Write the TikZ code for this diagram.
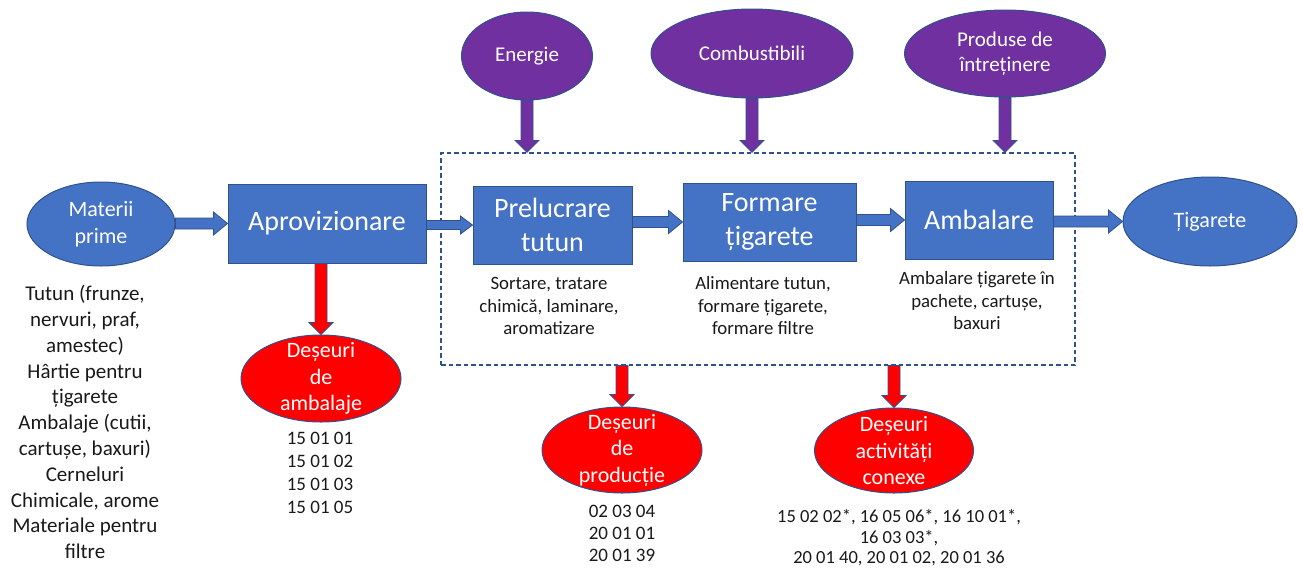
\documentclass[tikz,border=0pt]{standalone}
\usepackage{fontspec}
\setmainfont{Carlito}
\usetikzlibrary{shapes.geometric,calc}
\definecolor{blueF}{HTML}{4472C4}
\definecolor{blueD}{HTML}{2F528F}
\definecolor{purpF}{HTML}{7030A0}
\definecolor{redF}{HTML}{FF0000}
\tikzset{
  hblock/.style n args={3}{to path={let \p1=(\tikztostart), \p2=(\tikztotarget) in
    (\x1,\y2-#1) -- (\x2-#3,\y2-#1) -- (\x2-#3,\y2-#2) -- (\x2,\y2) -- (\x2-#3,\y2+#2) -- (\x2-#3,\y2+#1) -- (\x1,\y2+#1) -- cycle}},
  vblock/.style n args={3}{to path={let \p1=(\tikztostart), \p2=(\tikztotarget) in
    (\x2-#1,\y1) -- (\x2-#1,\y2+#3) -- (\x2-#2,\y2+#3) -- (\x2,\y2) -- (\x2+#2,\y2+#3) -- (\x2+#1,\y2+#3) -- (\x2+#1,\y1) -- cycle}},
  barrow/.style={hblock={5.5pt}{11.5pt}{14pt}, fill=blueF, draw=blueD, line width=0.8pt},
  barrowthin/.style={hblock={4.5pt}{9pt}{12pt}, fill=blueF, draw=blueD, line width=0.8pt},
  parrow/.style={vblock={6pt}{12pt}{12pt}, fill=purpF, draw=blueD, line width=0.8pt},
  rarrow/.style={vblock={6pt}{12pt}{12pt}, fill=redF, draw=blueD, line width=0.8pt},
  proc/.style={rectangle, fill=blueF, draw=blueD, line width=1pt, text=white, align=center, inner sep=0pt, font=\fontsize{28}{34}\selectfont},
  ell/.style={ellipse, draw=blueD, line width=1pt, inner sep=0pt},
  etxt/.style={text=white, align=center, inner sep=0pt, font=\fontsize{22}{26.5}\selectfont},
  inE/.style={ell, fill=blueF},
  supE/.style={ell, fill=purpF},
  wasteE/.style={ell, fill=redF},
  lbl/.style={align=center, inner sep=0pt, text=black!90, font=\fontsize{18.8}{22.5}\selectfont},
  grpbox/.style={rectangle, draw=blueD, line width=1.2pt, dash pattern=on 4.5pt off 3pt, inner sep=0pt}
}
\begin{document}
\begin{tikzpicture}[x=1pt,y=-1pt]
\useasboundingbox (0,0) rectangle (1303,568);
% dashed group
\node[grpbox, minimum width=634, minimum height=212] (grp) at (758,259) {};
% main flow
\node[inE, minimum width=148, minimum height=84, label={[etxt]center:Materii\\prime}] (mat) at (101,224) {};
\node[proc, minimum width=198, minimum height=79] (aprov) at (327,223.5) {Aprovizionare};
\node[proc, minimum width=159, minimum height=78] (prel) at (552.5,225) {Prelucrare\\tutun};
\node[proc, minimum width=173, minimum height=78] (form) at (769.5,222) {Formare\\țigarete};
\node[proc, minimum width=148, minimum height=78] (amb) at (979,220) {Ambalare};
\node[inE, minimum width=174, minimum height=89, label={[etxt]center:Țigarete}] (tig) at (1210,221.5) {};
% inputs
\node[supE, minimum width=131, minimum height=88, label={[etxt, font=\fontsize{21}{25}\selectfont]center:Energie}] (ener) at (527,56) {};
\node[supE, minimum width=202, minimum height=89, label={[etxt, font=\fontsize{21}{25}\selectfont]center:Combustibili}] (comb) at (752,53.5) {};
\node[supE, minimum width=201, minimum height=87, label={[etxt, font=\fontsize{21}{25}\selectfont]center:Produse de\\întreținere}] (prod) at (1005,53.5) {};
% wastes
\node[wasteE, minimum width=160, minimum height=87, label={[etxt]center:Deșeuri\\de\\ambalaje}] (dam) at (321,378.5) {};
\node[wasteE, minimum width=160, minimum height=86, label={[etxt]center:Deșeuri\\de\\producție}] (dprod) at (622,450) {};
\node[wasteE, minimum width=159, minimum height=85, label={[etxt]center:Deșeuri\\activități\\conexe}] (dact) at (894,450.5) {};
% text labels
\node[lbl, font=\fontsize{21}{25.8}\selectfont] (mlist) at (85,422) {Tutun (frunze,\\nervuri, praf,\\amestec)\\Hârtie pentru\\țigarete\\Ambalaje (cutii,\\cartușe, baxuri)\\Cerneluri\\Chimicale, arome\\Materiale pentru\\filtre};
\node[lbl, font=\fontsize{19}{23}\selectfont] (c1) at (320,472.5) {15 01 01\\15 01 02\\15 01 03\\15 01 05};
\node[lbl] (s1) at (549,306) {Sortare, tratare\\chimică, laminare,\\aromatizare};
\node[lbl] (s2) at (763,306) {Alimentare tutun,\\formare țigarete,\\formare filtre};
\node[lbl] (s3) at (977,301) {Ambalare țigarete în\\pachete, cartușe,\\baxuri};
\node[lbl, font=\fontsize{19}{22}\selectfont] (c2) at (622,533) {02 03 04\\20 01 01\\20 01 39};
\node[lbl, font=\fontsize{18.5}{20.5}\selectfont] (c3) at (899,538) {15 02 02*, 16 05 06*, 16 10 01*,\\16 03 03*,\\20 01 40, 20 01 02, 20 01 36};
% connectors
\draw[barrow] (mat.east) to (aprov.west);
\draw[barrowthin] (aprov.east) to (prel.west);
\draw[barrow] (prel.east) to (form.west);
\draw[barrow] (form.east) to (amb.west);
\draw[barrow] (amb.east) to (tig.west);
\draw[parrow] (ener.south) to (ener.south |- grp.north);
\draw[parrow] (comb.south) to (comb.south |- grp.north);
\draw[parrow] (prod.south) to (prod.south |- grp.north);
\draw[rarrow] (aprov.south) to (dam.north);
\draw[rarrow] (dprod.north |- grp.south) to (dprod.north);
\draw[rarrow] (dact.north |- grp.south) to (dact.north);
\end{tikzpicture}
\end{document}
